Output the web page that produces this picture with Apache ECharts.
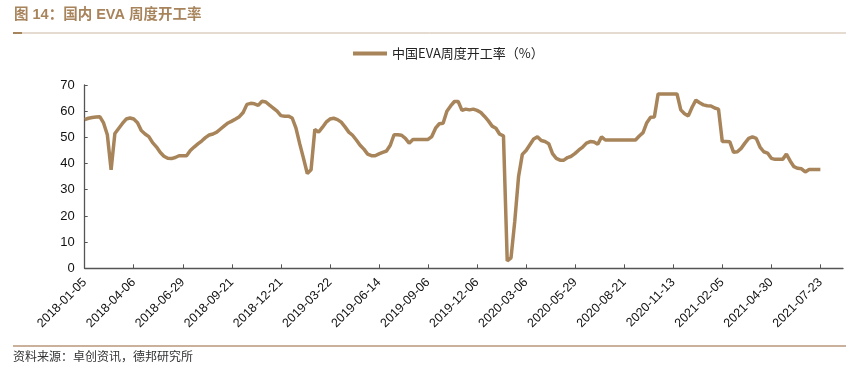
<!DOCTYPE html>
<html>
<head>
<meta charset="utf-8">
<script src="https://cdn.jsdelivr.net/npm/echarts@6/dist/echarts.min.js"></script>
<style>
  html, body { margin: 0; padding: 0; background: #fff; }
  #chart { width: 846px; height: 366px; }
</style>
</head>
<body>
<div id="chart"></div>
<script>
// 刻度标签（每 13 个点一个）
var tickLabels = ['2018-01-05', '2018-04-06', '2018-06-29', '2018-09-21', '2018-12-21',
    '2019-03-22', '2019-06-14', '2019-09-06', '2019-12-06', '2020-03-06', '2020-05-29',
    '2020-08-21', '2020-11-13', '2021-02-05', '2021-04-30', '2021-07-23'];

// 中国EVA周度开工率（%）
var rate = [
    56.8, 57.3, 57.6, 57.8, 57.9, 55.5, 51.0, 37.6, 51.5, 53.4, 55.3, 57.0, 57.4,
    57.0, 55.6, 52.6, 51.3, 50.3, 48.0, 46.4, 44.3, 42.8, 42.0, 41.9, 42.3, 43.0,
    43.0, 43.0, 45.0, 46.3, 47.5, 48.6, 49.9, 50.9, 51.3, 52.0, 53.2, 54.4, 55.5,
    56.2, 57.0, 57.9, 59.5, 62.6, 63.0, 62.8, 62.2, 63.8, 63.5, 62.3, 61.2, 60.0,
    58.3, 58.1, 58.1, 57.4, 53.5, 47.5, 42.0, 36.2, 37.6, 53.0, 52.0, 53.8, 55.8,
    57.0, 57.3, 56.8, 55.8, 54.0, 52.0, 50.8, 49.0, 47.0, 45.5, 43.6, 43.0, 43.0,
    43.7, 44.3, 44.8, 47.0, 51.0, 51.0, 50.8, 49.6, 47.8, 49.2, 49.2, 49.2, 49.2,
    49.2, 50.3, 53.5, 55.2, 55.4, 60.0, 62.0, 63.7, 63.7, 60.3, 60.8, 60.5, 60.8,
    60.3, 59.5, 58.0, 56.3, 54.3, 53.5, 51.2, 50.6, 2.8, 4.0, 18.0, 35.0, 43.5,
    45.0, 47.2, 49.4, 50.2, 48.8, 48.4, 47.6, 43.8, 42.0, 41.3, 41.3, 42.3, 42.8,
    43.9, 45.2, 46.3, 47.8, 48.4, 48.2, 47.4, 50.2, 49.0, 49.0, 49.0, 49.0, 49.0,
    49.0, 49.0, 49.0, 49.0, 50.5, 51.8, 55.6, 57.7, 57.8, 66.6, 66.6, 66.6, 66.6,
    66.6, 66.6, 60.5, 59.0, 58.2, 61.5, 64.2, 63.2, 62.4, 62.1, 62.0, 61.2, 60.8,
    48.4, 48.4, 48.3, 44.3, 44.5, 45.8, 47.8, 49.6, 50.2, 49.6, 46.3, 44.5, 44.0,
    42.0, 41.6, 41.6, 41.6, 43.6, 41.0, 38.8, 38.2, 38.0, 36.8, 37.7, 37.7, 37.7,
    37.7
];

function addDays(s, n) {
    var d = new Date(s + 'T00:00:00Z');
    d.setUTCDate(d.getUTCDate() + n);
    return d.toISOString().slice(0, 10);
}

// 横轴多留几个空位，和原图轴线长度一致
var categories = [];
for (var i = 0; i < rate.length + 6; i++) {
    var k = Math.min(Math.floor(i / 13), tickLabels.length - 1);
    categories.push(addDays(tickLabels[k], 7 * (i - 13 * k)));
}

var lineColor = '#a8845a';
var myChart = echarts.init(document.getElementById('chart'));
var option = {
    animation: false,
    textStyle: { fontFamily: 'Liberation Sans, Arial, Noto Sans CJK SC' },
    graphic: [
        {
            type: 'text', left: 14, top: 8,
            style: {
                text: '图 14：国内 EVA 周度开工率',
                fill: '#a8845c',
                font: 'bold 14.5px "Liberation Sans", "Noto Sans CJK SC"'
            }
        },
        { type: 'line', shape: { x1: 13, y1: 33, x2: 846, y2: 33 }, style: { stroke: '#cdb7a3', lineWidth: 1 } },
        { type: 'line', shape: { x1: 13, y1: 33, x2: 22, y2: 33 }, style: { stroke: '#a8845c', lineWidth: 2 } },
        { type: 'line', shape: { x1: 13, y1: 346, x2: 846, y2: 346 }, style: { stroke: '#c9b19c', lineWidth: 2 } },
        {
            type: 'text', left: 13, top: 350,
            style: {
                text: '资料来源：卓创资讯，德邦研究所',
                fill: '#333',
                font: '12px "Noto Sans CJK SC"'
            }
        }
    ],
    legend: {
        left: 353,
        top: 47,
        padding: 0,
        icon: 'rect',
        itemWidth: 34,
        itemHeight: 4,
        textStyle: { fontSize: 13, color: '#222', fontFamily: 'Noto Sans CJK SC' },
        data: ['中国EVA周度开工率（%）']
    },
    grid: { left: 84.7, right: 3, top: 85, bottom: 97.7, containLabel: false },
    xAxis: {
        type: 'category',
        data: categories,
        boundaryGap: false,
        axisLine: { lineStyle: { color: '#555', width: 1.3 } },
        axisTick: { inside: true, length: 4, interval: 12, lineStyle: { color: '#555' } },
        axisLabel: {
            interval: 12,
            rotate: 45,
            margin: 12,
            fontSize: 12.5,
            color: '#111'
        },
        splitLine: { show: false }
    },
    yAxis: {
        type: 'value',
        min: 0,
        max: 70,
        interval: 10,
        axisLine: { show: true, lineStyle: { color: '#555', width: 1.3 } },
        axisTick: { show: true, inside: true, length: 3, lineStyle: { color: '#555' } },
        axisLabel: { fontSize: 13, color: '#111', margin: 10 },
        splitLine: { show: false }
    },
    series: [{
        name: '中国EVA周度开工率（%）',
        type: 'line',
        data: rate,
        symbol: 'none',
        itemStyle: { color: lineColor },
        lineStyle: { color: lineColor, width: 3.5 }
    }]
};
myChart.setOption(option);
window.onresize = myChart.resize;
</script>
</body>
</html>
